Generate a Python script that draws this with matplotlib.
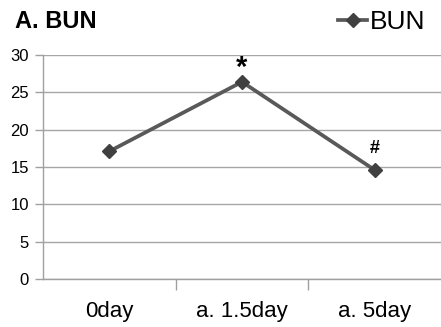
import matplotlib
matplotlib.use("Agg")
import matplotlib.pyplot as plt
from matplotlib.ticker import FixedLocator

categories = ["0day", "a. 1.5day", "a. 5day"]
bun = [17.1, 26.4, 14.6]
marks = ["", "*", "#"]
yticks = [0, 5, 10, 15, 20, 25, 30]

plt.rcParams['font.family'] = ['Liberation Sans', 'DejaVu Sans']

fig = plt.figure(figsize=(4.41, 3.27), dpi=100)
ax = fig.add_axes([43/441, 1-279/327, 1-43/441, (279-55)/327])

x = list(range(len(categories)))
line, = ax.plot(x, bun, color='#595959', lw=2.7, marker='D', markersize=7,
                markerfacecolor='#404040', markeredgecolor='#404040', label='BUN', zorder=3)

for xi, v, m in zip(x, bun, marks):
    if m:
        ax.annotate(m, (xi, v), xytext=(0, 0 if m == '*' else 9), textcoords='offset points',
                    ha='center', va='bottom', fontsize=21 if m == '*' else 13,
                    fontweight='bold', color='black')

ax.set_xlim(-0.5, len(categories) - 0.5)
ax.set_ylim(0, 30)
ax.set_yticks(yticks)
ax.set_xticks(x)
ax.set_xticklabels(categories, fontsize=16)
ax.xaxis.set_minor_locator(FixedLocator([0.5, 1.5]))
ax.tick_params(axis='x', which='major', length=0, pad=16)
ax.tick_params(axis='x', which='minor', length=8, color='#a0a0a0', width=1)
ax.tick_params(axis='y', length=6, color='#a0a0a0', width=1, labelsize=12, pad=4)

ax.grid(axis='y', color='#a6a6a6', lw=1)
ax.set_axisbelow(True)
for s in ['top', 'right']:
    ax.spines[s].set_visible(False)
for s in ['left', 'bottom']:
    ax.spines[s].set_color('#a0a0a0')
    ax.spines[s].set_linewidth(1)

fig.text(15/441, 1-22/327, "A. BUN", fontsize=17, fontweight='bold', ha='left', va='center')
leg = fig.legend(handles=[line], loc='center right', bbox_to_anchor=(1.0, 1-22/327),
                 frameon=False, fontsize=19, handlelength=1.1, handletextpad=0.1,
                 borderaxespad=0.2)

fig.savefig("out.png", dpi=100)
